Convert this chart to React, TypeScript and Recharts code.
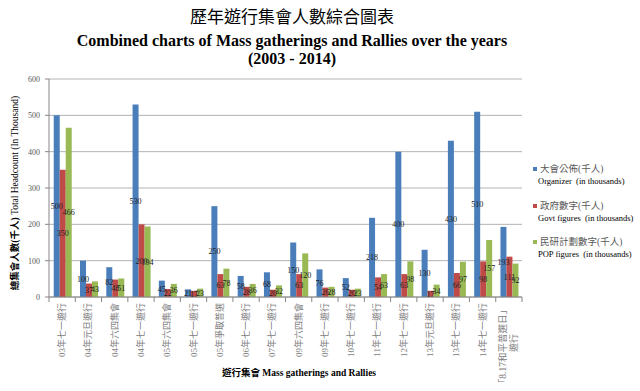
import React from 'react';
import { BarChart, Bar, XAxis, YAxis, CartesianGrid, Legend, LabelList } from 'recharts';

const categories = [
  '03年七一遊行', '04年元旦遊行', '04年六四集會', '04年七一遊行', '05年六四集會',
  '05年七一遊行', '05年爭取普選', '06年七一遊行', '07年七一遊行', '09年六四集會',
  '09年七一遊行', '10年七一遊行', '11年七一遊行', '12年七一遊行', '13年元旦遊行',
  '13年七一遊行', '14年七一遊行', '「8.17和平普選日」\n遊行',
];
const organizer = [500, 100, 82, 530, 45, 21, 250, 58, 68, 150, 76, 52, 218, 400, 130, 430, 510, 193];
const govt = [350, 37, 48, 200, 22, 17, 63, 28, 20, 63, 26, 20, 54, 63, 17, 66, 98, 111];
const pop = [466, 43, 51, 194, 36, 23, 78, 36, 32, 120, 28, 23, 63, 98, 34, 97, 157, 92];

const seriesNames = ['大會公佈(千人)', '政府數字(千人)', '民研計劃數字(千人)'];
const seriesNamesEn = ['Organizer  (in thousands)', 'Govt figures  (in thousands)', 'POP figures  (in thousands)'];
const colors = ['#4a7ebb', '#be4b48', '#98b954'];
const yTicks = [0, 100, 200, 300, 400, 500, 600];

const data = categories.map((c, i) => ({ name: c, org: organizer[i], govt: govt[i], pop: pop[i] }));

const SERIF = '"Liberation Serif", "Times New Roman", "Noto Sans CJK TC", serif';

const CategoryTick = (props: any) => {
  const { x, y, payload, index } = props;
  const half = payload.offset || 13.1;
  const lines = String(payload.value).split('\n');
  const isLast = index === categories.length - 1;
  return (
    <g>
      <line x1={x - half} y1={y} x2={x - half} y2={y + 5} stroke="#868686" />
      {isLast && <line x1={x + half} y1={y} x2={x + half} y2={y + 5} stroke="#868686" />}
      <g transform={`translate(${x},${y + 6}) rotate(-90)`}>
        {lines.length === 1 ? (
          <text x={0} y={3} textAnchor="end" fontSize={9} fill="#808080" fontFamily={SERIF}>
            {lines[0]}
          </text>
        ) : (
          <>
            <text x={-2} y={-2.5} textAnchor="end" fontSize={9.5} fill="#808080" fontFamily={SERIF}>
              {lines[0]}
            </text>
            <text x={-40} y={8.5} textAnchor="middle" fontSize={9} fill="#808080" fontFamily={SERIF}>
              {lines[1]}
            </text>
          </>
        )}
      </g>
    </g>
  );
};

const renderLegend = (props: any) => {
  const { payload } = props;
  return (
    <div style={{ fontFamily: SERIF, textAlign: 'left' }}>
      {(payload || []).map((entry: any, i: number) => (
        <div key={entry.value} style={{ height: 36.5 }}>
          <div style={{ display: 'flex', alignItems: 'center', fontSize: 9.5, color: '#595959', lineHeight: '12px' }}>
            <span style={{ display: 'inline-block', width: 4, height: 4, background: entry.color, marginRight: 3 }} />
            {entry.value}
          </div>
          <div style={{ fontSize: 8.5, color: '#000', lineHeight: '12px', paddingLeft: 5, whiteSpace: 'pre' }}>
            {seriesNamesEn[i]}
          </div>
        </div>
      ))}
    </div>
  );
};

export default function App() {
  return (
    <div style={{ position: 'absolute', left: 0, top: 0, width: 640, height: 391, background: '#fff', fontFamily: SERIF }}>
      <style>{'body{margin:0}'}</style>
      <div style={{ position: 'absolute', left: 0, top: 7, width: 584, textAlign: 'center', fontSize: 17, lineHeight: '22px', color: '#000' }}>
        歷年遊行集會人數綜合圖表
      </div>
      <div style={{ position: 'absolute', left: 0, top: 31, width: 584, textAlign: 'center', fontSize: 16, fontWeight: 'bold', lineHeight: '19px', color: '#000' }}>
        Combined charts of Mass gatherings and Rallies over the years
      </div>
      <div style={{ position: 'absolute', left: 0, top: 49, width: 584, textAlign: 'center', fontSize: 16, fontWeight: 'bold', lineHeight: '19px', color: '#000' }}>
        (2003 - 2014)
      </div>
      <div style={{
        position: 'absolute', left: 14, top: 193, transform: 'translate(-50%, -50%) rotate(-90deg)',
        whiteSpace: 'nowrap', fontSize: 9.5, color: '#000',
      }}>
        <span style={{ fontWeight: 'bold' }}>總集會人數(千人)</span> Total Headcount (In Thousand)
      </div>
      <div style={{
        position: 'absolute', left: 299, top: 372, transform: 'translate(-50%, -50%)',
        whiteSpace: 'nowrap', fontSize: 9.5, fontWeight: 'bold', color: '#000',
      }}>
        遊行集會 Mass gatherings and Rallies
      </div>
      <BarChart
        width={640}
        height={391}
        data={data}
        margin={{ top: 79, right: 118, bottom: 0, left: 0 }}
        barCategoryGap="18%"
        barGap={0}
      >
        <CartesianGrid vertical={false} stroke="#b3b3b3" />
        <XAxis
          dataKey="name"
          interval={0}
          tick={<CategoryTick />}
          tickLine={false}
          tickSize={0}
          tickMargin={0}
          axisLine={{ stroke: '#868686' }}
          height={94}
        />
        <YAxis
          width={49}
          domain={[0, 600]}
          ticks={yTicks}
          tick={{ fontSize: 8, fill: '#595959', fontFamily: SERIF }}
          tickSize={4}
          tickMargin={5}
          axisLine={{ stroke: '#868686' }}
          tickLine={{ stroke: '#868686' }}
        />
        <Legend
          layout="vertical"
          align="center"
          verticalAlign="middle"
          content={renderLegend}
          wrapperStyle={{ position: 'absolute', left: 533, top: 163, width: 105 }}
        />
        <Bar dataKey="org" name={seriesNames[0]} fill={colors[0]} isAnimationActive={false}>
          <LabelList dataKey="org" position="center" fontSize={8} fill="#222" fontFamily={SERIF} />
        </Bar>
        <Bar dataKey="govt" name={seriesNames[1]} fill={colors[1]} isAnimationActive={false}>
          <LabelList dataKey="govt" position="center" fontSize={8} fill="#222" fontFamily={SERIF} />
        </Bar>
        <Bar dataKey="pop" name={seriesNames[2]} fill={colors[2]} isAnimationActive={false}>
          <LabelList dataKey="pop" position="center" fontSize={8} fill="#222" fontFamily={SERIF} />
        </Bar>
      </BarChart>
    </div>
  );
}
